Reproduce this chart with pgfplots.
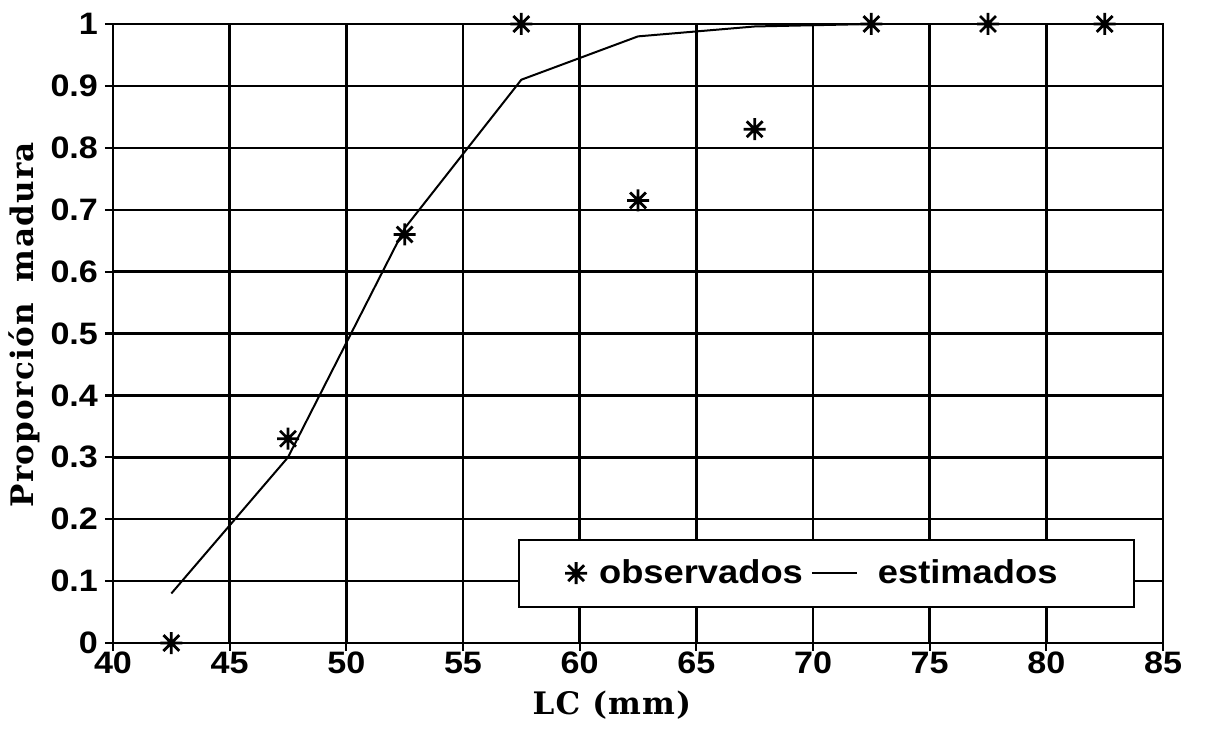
\documentclass[border=0pt]{standalone}
\usepackage{fontspec}
\setmainfont{Liberation Sans}
\newfontfamily\tickfont[FakeStretch=1.1]{Liberation Sans}
\newfontfamily\labfont[LetterSpace=4]{DejaVu Serif}
\usepackage{pgfplots}
\pgfplotsset{compat=1.18}
\pgfdeclareplotmark{ast8}{%
  \pgfpathmoveto{\pgfqpoint{0pt}{\pgfplotmarksize}}\pgfpathlineto{\pgfqpoint{0pt}{-\pgfplotmarksize}}%
  \pgfpathmoveto{\pgfqpoint{\pgfplotmarksize}{0pt}}\pgfpathlineto{\pgfqpoint{-\pgfplotmarksize}{0pt}}%
  \pgfpathmoveto{\pgfqpoint{.72\pgfplotmarksize}{.72\pgfplotmarksize}}\pgfpathlineto{\pgfqpoint{-.72\pgfplotmarksize}{-.72\pgfplotmarksize}}%
  \pgfpathmoveto{\pgfqpoint{-.72\pgfplotmarksize}{.72\pgfplotmarksize}}\pgfpathlineto{\pgfqpoint{.72\pgfplotmarksize}{-.72\pgfplotmarksize}}%
  \pgfusepathqstroke}
\begin{document}
\begin{tikzpicture}
\begin{axis}[
  scale only axis,
  width=525pt, height=309.5pt,
  xmin=40, xmax=85, ymin=0, ymax=1,
  xtick={40,45,...,85},
  ytick={0,0.1,...,1},
  yticklabels={0,0.1,0.2,0.3,0.4,0.5,0.6,0.7,0.8,0.9,1},
  /pgf/number format/assume math mode=true,
  ticklabel style={font=\tickfont\fontsize{15.5}{17}\selectfont\bfseries},
  xticklabel style={yshift=3pt},
  tick align=outside,
  major tick length=4pt,
  xtick pos=bottom, ytick pos=left,
  grid=major,
  major grid style={black, line width=1.2pt},
  axis line style={black, line width=1.3pt},
  every tick/.style={black, line width=1.1pt},
  xlabel={LC (mm)},
  ylabel={Proporción\hspace{0.3em} madura},
  label style={font=\labfont\fontsize{15.5}{17}\selectfont\bfseries},
  xlabel style={at={(axis description cs:0.475,0)}, anchor=center, yshift=-31pt},
  ylabel style={at={(axis description cs:0,0.514)}, anchor=center, yshift=44.5pt},
  legend columns=2,
  legend style={at={(axis cs:83.8,0.057)}, anchor=south east,
    draw=black, line width=1.1pt, fill=white,
    font=\tickfont\fontsize{16.5}{18}\selectfont\bfseries,
    nodes={inner sep=0pt},
    inner xsep=23pt, inner ysep=10pt,
    /tikz/every odd column/.append style={column sep=6pt},
    /tikz/every even column/.append style={column sep=4pt}},
  legend cell align=left,
]
\addplot[only marks, mark=ast8, mark size=5.5pt, line width=1.4pt, black]
coordinates {(42.5,0) (47.5,0.33) (52.5,0.66) (57.5,1) (62.5,0.715) (67.5,0.83) (72.5,1) (77.5,1) (82.5,1)};
\addlegendentry{observados}
\addplot[black, line width=1pt, mark=none, legend image code/.code={\draw[black, line width=1pt] (0pt,0pt) -- (22.5pt,0pt); \path (26.5pt,0pt);}]
coordinates {(42.5,0.08) (47.5,0.30) (52.5,0.67) (57.5,0.91) (62.5,0.98) (67.5,0.996) (72.5,1.0)};
\addlegendentry{\makebox[105pt][l]{estimados}}
\end{axis}
\pgfresetboundingbox
\path ([shift={(-56.5pt,-45.5pt)}]current axis.south west) rectangle ([shift={(22.5pt,12pt)}]current axis.north east);
\end{tikzpicture}
\end{document}
